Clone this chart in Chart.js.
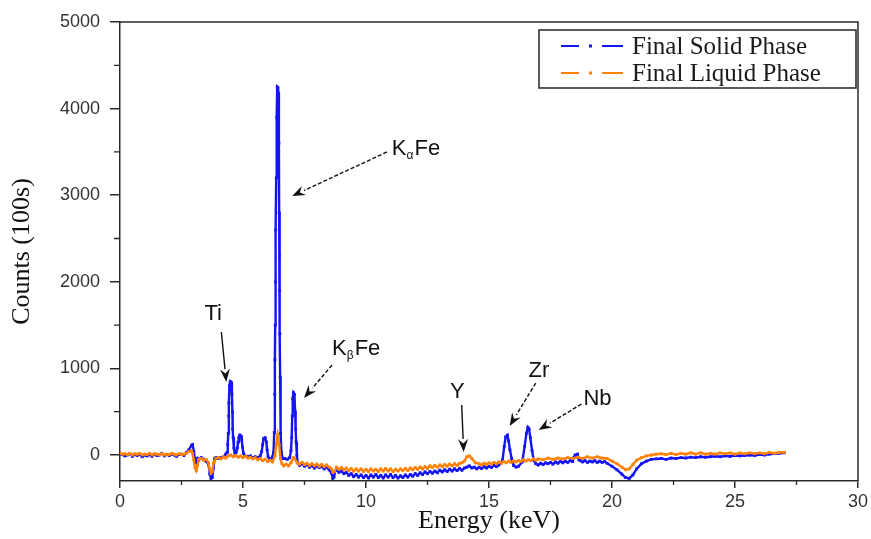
<!DOCTYPE html>
<html><head><meta charset="utf-8">
<script src="https://cdn.jsdelivr.net/npm/chart.js@4.4.0/dist/chart.umd.min.js"></script>
<style>html,body{margin:0;padding:0;background:#fff;}canvas{display:block;}</style>
</head><body>
<canvas id="c" width="871" height="539"></canvas>
<script>
// ---------- data: [energy (keV), counts (100s)] ----------
const solidPhase = [
[0.00,10],[0.10,5],[0.20,-10],[0.30,0],[0.40,15],[0.50,-15],[0.60,5],[0.70,-5],[0.80,10],[0.90,-20],
[1.00,0],[1.10,-10],[1.20,5],[1.30,-15],[1.40,10],[1.50,-5],[1.60,0],[1.70,20],[1.80,-10],[1.90,5],
[2.00,-5],[2.10,10],[2.20,0],[2.30,-15],[2.40,5],[2.50,10],[2.60,-5],[2.70,30],[2.80,60],[2.90,110],
[2.95,120],[3.00,40],[3.05,-60],[3.10,-90],[3.15,-40],[3.20,-60],[3.30,-30],[3.40,-50],[3.50,-70],[3.60,-110],
[3.65,-220],[3.70,-270],[3.75,-260],[3.80,-150],[3.85,-40],[3.90,-30],[4.00,-40],[4.10,-30],[4.20,-20],[4.30,10],
[4.35,30],[4.38,120],[4.40,250],[4.42,450],[4.43,600],[4.45,800],[4.48,850],[4.52,840],[4.55,700],[4.57,500],
[4.58,300],[4.60,200],[4.63,80],[4.67,20],[4.72,30],[4.77,80],[4.80,150],[4.83,200],[4.87,230],[4.92,220],
[4.95,170],[4.98,90],[5.02,20],[5.08,-10],[5.20,-20],[5.30,-10],[5.40,-30],[5.50,-20],[5.60,-30],[5.70,-10],
[5.76,40],[5.80,120],[5.84,190],[5.90,200],[5.95,150],[5.98,60],[6.02,-20],[6.08,-50],[6.15,-40],[6.20,-20],
[6.24,30],[6.27,260],[6.29,700],[6.30,1100],[6.31,1500],[6.32,2000],[6.33,2600],[6.35,3200],[6.37,3900],[6.39,4250],
[6.42,4240],[6.44,4180],[6.46,3600],[6.47,2800],[6.48,2300],[6.49,1900],[6.50,1400],[6.51,900],[6.53,250],[6.56,30],
[6.62,-40],[6.70,-40],[6.80,-50],[6.90,-30],[6.95,50],[6.98,200],[7.00,450],[7.02,650],[7.05,720],[7.09,700],
[7.12,500],[7.14,300],[7.16,150],[7.19,0],[7.22,-90],[7.30,-120],[7.40,-100],[7.50,-130],[7.60,-110],[7.70,-140],
[7.80,-120],[7.90,-150],[8.00,-125],[8.10,-145],[8.20,-130],[8.30,-160],[8.40,-140],[8.50,-170],[8.60,-210],[8.65,-270],
[8.70,-255],[8.75,-180],[8.80,-170],[8.90,-200],[9.00,-185],[9.10,-215],[9.20,-200],[9.30,-235],[9.40,-215],[9.50,-250],
[9.60,-225],[9.70,-255],[9.80,-230],[9.90,-260],[10.00,-235],[10.10,-265],[10.20,-230],[10.30,-255],[10.40,-225],[10.50,-260],
[10.60,-235],[10.70,-265],[10.80,-230],[10.90,-255],[11.00,-225],[11.10,-260],[11.20,-235],[11.30,-265],[11.40,-240],[11.50,-260],
[11.60,-230],[11.70,-255],[11.80,-225],[11.90,-245],[12.00,-215],[12.10,-235],[12.20,-205],[12.30,-225],[12.40,-195],[12.50,-215],
[12.60,-190],[12.70,-210],[12.80,-185],[12.90,-205],[13.00,-175],[13.10,-195],[13.20,-170],[13.30,-190],[13.40,-165],[13.50,-185],
[13.60,-160],[13.70,-180],[13.80,-155],[13.90,-175],[14.00,-150],[14.10,-140],[14.20,-125],[14.30,-150],[14.40,-140],[14.50,-160],
[14.60,-140],[14.70,-155],[14.80,-135],[14.90,-150],[15.00,-130],[15.10,-145],[15.20,-120],[15.30,-135],[15.40,-115],[15.50,-90],
[15.55,-60],[15.62,100],[15.68,210],[15.75,230],[15.80,160],[15.85,60],[15.92,-40],[16.00,-120],[16.10,-140],[16.20,-130],
[16.35,-80],[16.45,100],[16.52,250],[16.58,320],[16.63,300],[16.68,200],[16.75,50],[16.82,-60],[16.90,-100],[17.00,-115],
[17.10,-95],[17.20,-110],[17.30,-90],[17.40,-100],[17.50,-85],[17.60,-105],[17.70,-80],[17.80,-95],[17.90,-75],[18.00,-90],
[18.10,-70],[18.20,-85],[18.30,-65],[18.40,-75],[18.45,-30],[18.50,0],[18.60,10],[18.65,-50],[18.70,-65],[18.80,-80],
[18.90,-65],[19.00,-85],[19.10,-70],[19.20,-80],[19.30,-65],[19.40,-85],[19.50,-70],[19.60,-85],[19.70,-75],[19.80,-95],
[20.00,-130],[20.20,-170],[20.40,-220],[20.55,-260],[20.70,-270],[20.85,-230],[21.00,-160],[21.20,-100],[21.40,-70],[21.60,-50],
[21.80,-45],[22.00,-40],[22.20,-50],[22.40,-35],[22.60,-40],[22.80,-30],[23.00,-35],[23.20,-25],[23.40,-30],[23.60,-20],
[23.80,-25],[24.00,-20],[24.20,-15],[24.40,-20],[24.60,-10],[24.80,-15],[25.00,-5],[25.20,-10],[25.40,-5],[25.60,0],
[25.80,-5],[26.00,5],[26.20,0],[26.40,10],[26.60,15],[26.80,20],[27.00,25]
];
const liquidPhase = [
[0.00,20],[0.10,10],[0.20,15],[0.30,5],[0.40,20],[0.50,0],[0.60,15],[0.70,10],[0.80,20],[0.90,0],
[1.00,10],[1.10,5],[1.20,20],[1.30,0],[1.40,15],[1.50,10],[1.60,5],[1.70,15],[1.80,0],[1.90,10],
[2.00,5],[2.10,20],[2.20,10],[2.30,0],[2.40,15],[2.50,5],[2.60,10],[2.70,20],[2.80,40],[2.90,50],
[2.95,20],[3.00,-60],[3.05,-150],[3.10,-180],[3.15,-120],[3.20,-50],[3.30,-40],[3.40,-60],[3.50,-50],[3.60,-90],
[3.65,-170],[3.70,-210],[3.75,-190],[3.80,-90],[3.90,-40],[4.00,-30],[4.10,-45],[4.20,-20],[4.30,-35],[4.40,-10],
[4.50,0],[4.60,-20],[4.70,-5],[4.80,-25],[4.90,-10],[5.00,-30],[5.10,-15],[5.20,-35],[5.30,-25],[5.40,-45],
[5.50,-30],[5.60,-55],[5.70,-40],[5.80,-65],[5.90,-50],[6.00,-75],[6.10,-60],[6.20,-80],[6.30,-10],[6.35,120],
[6.41,230],[6.47,120],[6.52,-40],[6.58,-100],[6.65,-125],[6.75,-105],[6.85,-125],[6.95,-90],[7.05,-30],[7.10,-40],
[7.20,-90],[7.30,-105],[7.40,-85],[7.50,-110],[7.60,-95],[7.70,-120],[7.80,-100],[7.90,-125],[8.00,-105],[8.10,-130],
[8.20,-110],[8.30,-135],[8.40,-115],[8.50,-140],[8.60,-160],[8.65,-200],[8.72,-190],[8.80,-140],[8.90,-165],[9.00,-145],
[9.10,-170],[9.20,-150],[9.30,-180],[9.40,-155],[9.50,-185],[9.60,-160],[9.70,-185],[9.80,-160],[9.90,-190],[10.00,-165],
[10.10,-190],[10.20,-160],[10.30,-185],[10.40,-165],[10.50,-190],[10.60,-160],[10.70,-185],[10.80,-155],[10.90,-185],[11.00,-160],
[11.10,-190],[11.20,-165],[11.30,-185],[11.40,-160],[11.50,-180],[11.60,-155],[11.70,-180],[11.80,-150],[11.90,-170],[12.00,-145],
[12.10,-165],[12.20,-140],[12.30,-160],[12.40,-135],[12.50,-155],[12.60,-125],[12.70,-145],[12.80,-120],[12.90,-140],[13.00,-115],
[13.10,-135],[13.20,-110],[13.30,-130],[13.40,-105],[13.50,-125],[13.60,-100],[13.70,-120],[13.80,-95],[13.90,-90],[14.00,-70],
[14.10,-20],[14.20,-10],[14.30,-40],[14.45,-90],[14.60,-100],[14.70,-115],[14.80,-95],[14.90,-110],[15.00,-90],[15.10,-105],
[15.20,-85],[15.30,-100],[15.40,-80],[15.50,-95],[15.60,-75],[15.70,-90],[15.80,-70],[15.90,-85],[16.00,-70],[16.10,-80],
[16.20,-65],[16.30,-75],[16.40,-55],[16.50,-70],[16.60,-55],[16.70,-65],[16.80,-45],[16.90,-60],[17.00,-45],[17.20,-55],
[17.40,-35],[17.60,-50],[17.80,-35],[18.00,-45],[18.20,-30],[18.40,-40],[18.60,-25],[18.80,-40],[19.00,-20],[19.20,-35],
[19.40,-20],[19.60,-35],[19.80,-40],[20.00,-70],[20.20,-100],[20.40,-140],[20.55,-170],[20.70,-160],[20.85,-110],[21.00,-60],
[21.20,-30],[21.40,-10],[21.60,0],[21.80,10],[22.00,15],[22.20,5],[22.40,20],[22.60,5],[22.80,20],[23.00,10],
[23.20,25],[23.40,10],[23.60,25],[23.80,10],[24.00,20],[24.20,10],[24.40,25],[24.60,15],[24.80,25],[25.00,10],
[25.20,25],[25.40,15],[25.60,25],[25.80,15],[26.00,25],[26.20,15],[26.40,30],[26.60,20],[26.80,30],[27.00,30]
];

const seriesLabels = ['Final Solid Phase', 'Final Liquid Phase'];
const seriesColors = ['#1414f5', '#ff8205'];
const energyTicks = [0, 5, 10, 15, 20, 25, 30];
const countTicks = [0, 1000, 2000, 3000, 4000, 5000];
const energyMinorTicks = [2.5, 7.5, 12.5, 17.5, 22.5, 27.5];
const countMinorTicks = [500, 1500, 2500, 3500, 4500];
const xTitle = 'Energy (keV)';
const yTitle = 'Counts (100s)';

// annotations (data coordinates)
const annoMain = ['Ti', 'K', 'K', 'Y', 'Zr', 'Nb'];
const annoSub = ['', '\u03b1', '\u03b2', '', '', ''];
const annoTail = ['', 'Fe', 'Fe', '', '', ''];
const annoTextE = [3.43, 11.05, 8.62, 13.41, 16.61, 18.84];
const annoTextC = [1559, 3464, 1155, 658, 900, 577];
const arrowFromE = [4.12, 10.85, 8.62, 13.89, 16.90, 18.76];
const arrowFromC = [1420, 3499, 1039, 577, 831, 589];
const arrowToE = [4.32, 7.00, 7.48, 13.97, 15.84, 17.02];
const arrowToC = [843, 2991, 658, 35, 335, 289];
const arrowDashed = [false, true, true, false, true, true];

const axisColor = '#2a2a2a';

function pts(arr) { return arr.map(p => ({ x: p[0], y: p[1] })); }

const framePlugin = {
  id: 'frame',
  afterDraw(chart) {
    const { ctx, chartArea: a, scales: { x, y } } = chart;
    ctx.save();
    ctx.strokeStyle = axisColor;
    ctx.lineWidth = 1.5;
    ctx.beginPath();
    ctx.moveTo(a.left, a.top); ctx.lineTo(a.right, a.top); ctx.lineTo(a.right, a.bottom);
    ctx.stroke();
    ctx.lineWidth = 1.3;
    ctx.beginPath();
    energyMinorTicks.forEach(v => { const px = x.getPixelForValue(v); ctx.moveTo(px, a.bottom); ctx.lineTo(px, a.bottom + 4); });
    countMinorTicks.forEach(v => { const py = y.getPixelForValue(v); ctx.moveTo(a.left, py); ctx.lineTo(a.left - 6, py); });
    ctx.stroke();
    ctx.restore();
  }
};

const annoPlugin = {
  id: 'anno',
  afterDatasetsDraw(chart) {
    const { ctx, scales: { x, y } } = chart;
    ctx.save();
    ctx.fillStyle = '#111';
    ctx.strokeStyle = '#111';
    ctx.textBaseline = 'alphabetic';
    ctx.textAlign = 'left';
    for (let i = 0; i < annoMain.length; i++) {
      let px = x.getPixelForValue(annoTextE[i]);
      const py = y.getPixelForValue(annoTextC[i]);
      ctx.font = '22px "Liberation Sans", Arial, sans-serif';
      ctx.fillText(annoMain[i], px, py);
      px += ctx.measureText(annoMain[i]).width;
      if (annoSub[i]) {
        ctx.font = '12px "Liberation Sans", Arial, sans-serif';
        ctx.fillText(annoSub[i], px, py + 4);
        px += ctx.measureText(annoSub[i]).width + 1;
      }
      if (annoTail[i]) {
        ctx.font = '22px "Liberation Sans", Arial, sans-serif';
        ctx.fillText(annoTail[i], px, py);
      }
      const x0 = x.getPixelForValue(arrowFromE[i]), y0 = y.getPixelForValue(arrowFromC[i]);
      const x1 = x.getPixelForValue(arrowToE[i]), y1 = y.getPixelForValue(arrowToC[i]);
      const ang = Math.atan2(y1 - y0, x1 - x0);
      const hl = 13, hw = 5;
      const bx = x1 - hl * Math.cos(ang), by = y1 - hl * Math.sin(ang);
      ctx.lineWidth = 1.4;
      ctx.setLineDash(arrowDashed[i] ? [4, 2] : []);
      ctx.beginPath(); ctx.moveTo(x0, y0); ctx.lineTo(bx, by); ctx.stroke();
      ctx.setLineDash([]);
      ctx.beginPath();
      ctx.moveTo(x1, y1);
      ctx.lineTo(bx + hw * Math.sin(ang), by - hw * Math.cos(ang));
      ctx.lineTo(bx + 0.35 * hl * Math.cos(ang), by + 0.35 * hl * Math.sin(ang));
      ctx.lineTo(bx - hw * Math.sin(ang), by + hw * Math.cos(ang));
      ctx.closePath();
      ctx.fill();
    }
    ctx.restore();
  }
};

const legendPlugin = {
  id: 'boxLegend',
  afterDraw(chart) {
    const { ctx, chartArea: a } = chart;
    const left = a.right - 319, top = a.top + 8, w = 317, h = 58;
    ctx.save();
    ctx.fillStyle = '#fff';
    ctx.fillRect(left, top, w, h);
    ctx.strokeStyle = '#333';
    ctx.lineWidth = 1.6;
    ctx.strokeRect(left, top, w, h);
    ctx.font = '25px "Liberation Serif", "Times New Roman", serif';
    ctx.textBaseline = 'middle';
    ctx.textAlign = 'left';
    seriesLabels.forEach((lab, i) => {
      const cy = top + 16 + i * 27;
      const lx = left + 22;
      ctx.strokeStyle = seriesColors[i];
      ctx.fillStyle = seriesColors[i];
      ctx.lineWidth = 2;
      ctx.beginPath();
      ctx.moveTo(lx, cy); ctx.lineTo(lx + 18, cy);
      ctx.moveTo(lx + 41, cy); ctx.lineTo(lx + 62, cy);
      ctx.stroke();
      ctx.fillRect(lx + 28, cy - 1.5, 3, 3);
      ctx.fillStyle = '#1a1a1a';
      ctx.fillText(lab, lx + 71, cy + 1);
    });
    ctx.restore();
  }
};

new Chart(document.getElementById('c'), {
  type: 'line',
  data: {
    datasets: [
      { label: seriesLabels[0], data: pts(solidPhase), borderColor: seriesColors[0], backgroundColor: seriesColors[0],
        borderWidth: 2.4, pointStyle: 'rect', pointRadius: 2, pointBorderWidth: 0, tension: 0, order: 2 },
      { label: seriesLabels[1], data: pts(liquidPhase), borderColor: seriesColors[1], backgroundColor: seriesColors[1],
        borderWidth: 2.4, pointStyle: 'rect', pointRadius: 2, pointBorderWidth: 0, tension: 0, order: 1 }
    ]
  },
  options: {
    responsive: false,
    animation: false,
    devicePixelRatio: 1,
    layout: { padding: { top: 22, right: 12, left: 0, bottom: 0 } },
    plugins: { legend: { display: false }, tooltip: { enabled: false } },
    scales: {
      x: {
        type: 'linear', min: 0, max: 30,
        afterBuildTicks: s => { s.ticks = energyTicks.map(v => ({ value: v })); },
        afterFit: s => { s.height = 58; },
        grid: { drawOnChartArea: false, drawTicks: true, tickLength: 7, color: axisColor, lineWidth: 1.5 },
        border: { display: true, color: axisColor, width: 1.5 },
        ticks: { color: '#333', padding: 3, maxRotation: 0, callback: v => String(v),
          font: { family: '"Liberation Sans", Arial, sans-serif', size: 18 } },
        title: { display: true, text: xTitle, color: '#111', padding: { top: 0, bottom: 2 },
          font: { family: '"Liberation Serif", "Times New Roman", serif', size: 26 } }
      },
      y: {
        type: 'linear', min: -300, max: 5000,
        afterBuildTicks: s => { s.ticks = countTicks.map(v => ({ value: v })); },
        afterFit: s => { s.width = 120; },
        grid: { drawOnChartArea: false, drawTicks: true, tickLength: 10, color: axisColor, lineWidth: 1.5 },
        border: { display: true, color: axisColor, width: 1.5 },
        ticks: { color: '#333', padding: 10, callback: v => String(v),
          font: { family: '"Liberation Sans", Arial, sans-serif', size: 18 } },
        title: { display: true, text: yTitle, color: '#111', padding: { top: 7, bottom: 0 },
          font: { family: '"Liberation Serif", "Times New Roman", serif', size: 26 } }
      }
    }
  },
  plugins: [framePlugin, annoPlugin, legendPlugin]
});
</script>
</body></html>
